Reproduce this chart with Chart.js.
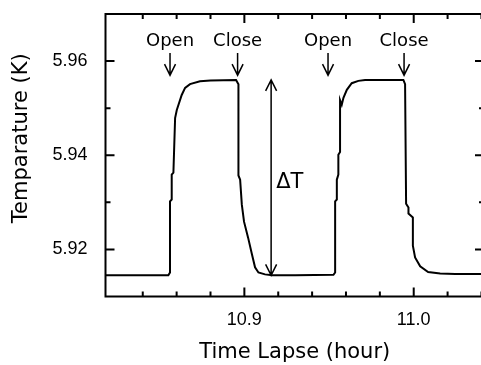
<!DOCTYPE html>
<html>
<head>
<meta charset="utf-8">
<script src="https://cdn.jsdelivr.net/npm/chart.js@4/dist/chart.umd.min.js"></script>
<style>
  html, body { margin: 0; padding: 0; background: #fff; overflow: hidden; }
  canvas { display: block; }
</style>
</head>
<body>
<canvas id="graph" width="484" height="365"></canvas>
<script>
// time lapse (hour) and temperature (K)
let temps_heures = [10.818, 10.8551, 10.8561, 10.8561, 10.8571, 10.8571, 10.8581, 10.8591, 10.8601, 10.8630,
  10.8650, 10.8679, 10.8738, 10.8800, 10.8951, 10.8965, 10.8965, 10.8975, 10.8985, 10.8998,
  10.9022, 10.9045, 10.9063, 10.9083, 10.9122, 10.9164, 10.9300, 10.9526, 10.9536, 10.9536,
  10.9546, 10.9546, 10.9555, 10.9555, 10.9565, 10.9565, 10.9575, 10.9585, 10.9605, 10.9634,
  10.9673, 10.9713, 10.9939, 10.9949, 10.9955, 10.9969, 10.9969, 10.9995, 10.9995, 11.0008,
  11.0038, 11.0085, 11.0156, 11.0245, 11.0415];
let temperatures = [5.9145, 5.9145, 5.9151, 5.9302, 5.9306, 5.9359, 5.9363, 5.9479, 5.9496, 5.9528,
  5.9543, 5.9551, 5.9557, 5.9559, 5.9560, 5.9551, 5.9357, 5.9348, 5.9295, 5.9259,
  5.9225, 5.9189, 5.9162, 5.9151, 5.9147, 5.9145, 5.9145, 5.9146, 5.9151, 5.9302,
  5.9306, 5.9348, 5.9359, 5.9401, 5.9407, 5.9517, 5.9507, 5.9522, 5.9539, 5.9553,
  5.9558, 5.9560, 5.9560, 5.9551, 5.9297, 5.9289, 5.9276, 5.9268, 5.9208, 5.9183,
  5.9164, 5.9152, 5.9149, 5.9148, 5.9148];

// valve events
let evenements = ["Open", "Close", "Open", "Close"];
let evenements_heures = [10.8561, 10.8960, 10.9494, 10.9943];

// delta T marker
let delta_heure = 10.9158;
let delta_bas = 5.9145;
let delta_haut = 5.9560;

// axes
let x_ticks = [10.9, 11.0];
let x_mineurs = [10.84, 10.86, 10.88, 10.92, 10.94, 10.96, 10.98, 11.02, 11.04];
let y_ticks = [5.92, 5.94, 5.96];
let y_mineurs = [5.93, 5.95];

let points = temps_heures.map((t, i) => ({ x: t, y: temperatures[i] }));

function fleche(ctx, x, y1, y2, haut, bas) {
  ctx.beginPath();
  ctx.moveTo(x, y1);
  ctx.lineTo(x, y2);
  if (bas) {
    ctx.moveTo(x - 5.5, y2 - 11);
    ctx.lineTo(x, y2);
    ctx.lineTo(x + 5.5, y2 - 11);
  }
  if (haut) {
    ctx.moveTo(x - 5.5, y1 + 11);
    ctx.lineTo(x, y1);
    ctx.lineTo(x + 5.5, y1 + 11);
  }
  ctx.stroke();
}

function sansMarge(s) {
  s.paddingTop = 0;
  s.paddingBottom = 0;
  s.paddingLeft = 0;
  s.paddingRight = 0;
}

let cadre = {
  id: "cadre",
  afterDraw(chart) {
    let ctx = chart.ctx;
    let a = chart.chartArea;
    let sx = chart.scales.x;
    let sy = chart.scales.y;
    ctx.save();
    ctx.strokeStyle = "#000";
    ctx.lineWidth = 2;
    ctx.strokeRect(a.left, a.top, a.right - a.left, a.bottom - a.top);

    // inward ticks
    let tickX = (v, len) => {
      let px = sx.getPixelForValue(v);
      ctx.beginPath();
      ctx.moveTo(px, a.bottom); ctx.lineTo(px, a.bottom - len);
      ctx.moveTo(px, a.top); ctx.lineTo(px, a.top + len);
      ctx.stroke();
    };
    let tickY = (v, len) => {
      let py = sy.getPixelForValue(v);
      ctx.beginPath();
      ctx.moveTo(a.left, py); ctx.lineTo(a.left + len, py);
      ctx.moveTo(a.right, py); ctx.lineTo(a.right - len, py);
      ctx.stroke();
    };
    x_ticks.forEach(v => tickX(v, 9));
    x_mineurs.forEach(v => tickX(v, 5));
    y_ticks.forEach(v => tickY(v, 9));
    y_mineurs.forEach(v => tickY(v, 5));

    // Open / Close arrows
    ctx.lineWidth = 1.5;
    ctx.fillStyle = "#000";
    ctx.font = "18px 'DejaVu Sans'";
    ctx.textAlign = "center";
    ctx.textBaseline = "alphabetic";
    evenements.forEach((nom, i) => {
      let px = sx.getPixelForValue(evenements_heures[i]);
      ctx.fillText(nom, px, sy.getPixelForValue(5.9632));
      fleche(ctx, px, sy.getPixelForValue(5.9617), sy.getPixelForValue(5.9570), false, true);
    });

    // delta T
    let dx = sx.getPixelForValue(delta_heure);
    fleche(ctx, dx, sy.getPixelForValue(delta_haut), sy.getPixelForValue(delta_bas), true, true);
    ctx.font = "21px 'DejaVu Sans'";
    ctx.textAlign = "left";
    ctx.fillText("\u0394T", dx + 5, sy.getPixelForValue(5.9331));

    // y title
    ctx.save();
    ctx.translate(22, (a.top + a.bottom) / 2 - 17);
    ctx.rotate(-Math.PI / 2);
    ctx.textAlign = "center";
    ctx.textBaseline = "middle";
    ctx.fillText("Temparature (K)", 0, 0);
    ctx.restore();
    ctx.restore();
  }
};

let graph = document.getElementById("graph");
let myChart = new Chart(graph, {
  type: "line",
  data: {
    datasets: [
      {
        data: points,
        borderColor: "#000",
        borderWidth: 2,
        pointRadius: 0,
        tension: 0,
        fill: false,
      },
    ],
  },
  options: {
    responsive: false,
    animation: false,
    layout: { padding: { top: 14, right: 0, left: 0, bottom: 0 } },
    plugins: { legend: { display: false }, tooltip: { enabled: false } },
    scales: {
      x: {
        type: "linear",
        min: 10.818,
        max: 11.0415,
        grid: { display: false, drawTicks: false },
        border: { display: false },
        afterBuildTicks: (s) => { s.ticks = x_ticks.map(v => ({ value: v })); },
        afterFit: (s) => { s.height = 68.5; sansMarge(s); },
        ticks: {
          color: "#000",
          padding: 13,
          font: { family: "'Liberation Sans'", size: 18 },
          callback: (v) => v.toFixed(1),
        },
        title: {
          display: true,
          text: "Time Lapse (hour)",
          color: "#000",
          font: { family: "'DejaVu Sans'", size: 21 },
          padding: { top: 0, bottom: 0 },
        },
      },
      y: {
        min: 5.91,
        max: 5.97,
        grid: { display: false, drawTicks: false },
        border: { display: false },
        afterBuildTicks: (s) => { s.ticks = y_ticks.map(v => ({ value: v })); },
        afterFit: (s) => { s.width = 105.5; sansMarge(s); },
        ticks: {
          color: "#000",
          padding: 18,
          font: { family: "'Liberation Sans'", size: 18 },
          callback: (v) => v.toFixed(2),
        },
      },
    },
  },
  plugins: [cadre],
});
</script>
</body>
</html>
